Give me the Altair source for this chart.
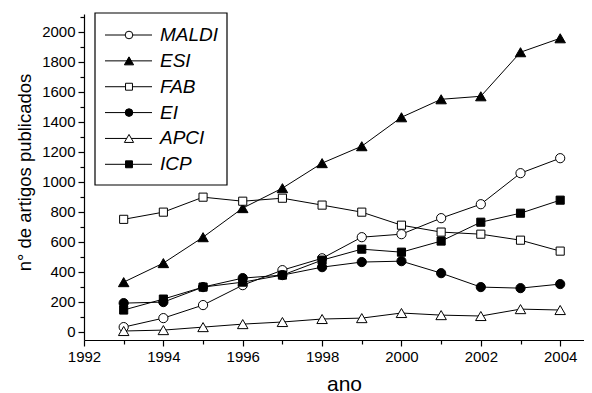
import altair as alt
import pandas as pd

years = list(range(1993, 2005))
series = ["MALDI", "ESI", "FAB", "EI", "APCI", "ICP"]
maldi = [31, 91, 178, 311, 411, 490, 631, 651, 758, 851, 1058, 1158]
esi = [331, 458, 631, 825, 958, 1125, 1238, 1431, 1551, 1571, 1865, 1958]
fab = [750, 798, 898, 871, 891, 845, 798, 711, 665, 651, 611, 538]
ei = [191, 198, 298, 358, 378, 431, 465, 471, 391, 298, 291, 318]
apci = [5, 11, 31, 51, 65, 85, 91, 125, 111, 105, 151, 145]
icp = [145, 218, 298, 331, 378, 478, 551, 531, 605, 731, 791, 878]

shapes = ["circle", "triangle-up", "square", "circle", "triangle-up", "square"]
fills = ["white", "black", "white", "black", "white", "black"]
sizes = [85, 110, 66, 85, 110, 66]
leg_sizes = [58, 85, 48, 58, 85, 48]

x_major = list(range(1992, 2005, 2))
x_minor = list(range(1993, 2004, 2))
y_major = list(range(0, 2001, 200))
y_minor = list(range(100, 2101, 200))

rows = []
for name, vals in zip(series, [maldi, esi, fab, ei, apci, icp]):
    for yr, v in zip(years, vals):
        rows.append({"ano": yr, "valor": v, "serie": name})
df = pd.DataFrame(rows)
leg = pd.DataFrame({"serie": series, "row": list(range(len(series)))})

x_scale = alt.Scale(domain=[1992, 2004.6], nice=False, zero=False)
y_scale = alt.Scale(domain=[-55, 2120], nice=False, zero=False)
shape_scale = alt.Scale(domain=series, range=shapes)
fill_scale = alt.Scale(domain=series, range=fills)

FONT = "Liberation Sans"

x_axis_major = alt.Axis(values=x_major, format="d", tickSize=6, labelFontSize=15,
                        labelPadding=3, labelFlush=False, labelOverlap=False,
                        title="ano", titleFontSize=21, titleFontWeight="normal",
                        titleX=260, titleY=50, titleBaseline="alphabetic",
                        titleAlign="center", grid=False, orient="bottom")
y_axis_major = alt.Axis(values=y_major, format="d", tickSize=6, labelFontSize=15,
                        labelPadding=3, labelFlush=False, labelOverlap=False,
                        title="n° de artigos publicados", titleFontSize=18.5,
                        titleFontWeight="normal", titleAngle=-90,
                        titleX=-54, titleY=158, titleBaseline="alphabetic",
                        titleAlign="center", grid=False, orient="left")
x_axis_minor = alt.Axis(values=x_minor, tickSize=4, labels=False, domain=False,
                        title=None, grid=False, orient="bottom")
y_axis_minor = alt.Axis(values=y_minor, tickSize=4, labels=False, domain=False,
                        title=None, grid=False, orient="left")

lines = alt.Chart(df).mark_line(color="black", strokeWidth=1).encode(
    x=alt.X("ano:Q", scale=x_scale, axis=x_axis_major),
    y=alt.Y("valor:Q", scale=y_scale, axis=y_axis_major),
    detail="serie:N",
)

points = alt.Chart(df).mark_point(filled=True, stroke="black", strokeWidth=1,
                                  opacity=1).encode(
    x=alt.X("ano:Q", scale=x_scale, axis=x_axis_minor),
    y=alt.Y("valor:Q", scale=y_scale, axis=y_axis_minor),
    shape=alt.Shape("serie:N", scale=shape_scale, legend=None),
    fill=alt.Fill("serie:N", scale=fill_scale, legend=None),
    size=alt.Size("serie:N", scale=alt.Scale(type="ordinal", domain=series, range=sizes),
                  legend=None),
)

data_layer = alt.layer(lines, points).resolve_axis(x="independent", y="independent")

leg_y = alt.Y("row:Q", scale=alt.Scale(domain=[0, 5], range=[21, 150.3]), axis=None)

box = alt.Chart(pd.DataFrame({"k": [0]})).mark_rect(
    fill="white", stroke="black", strokeWidth=1.2).encode(
    x=alt.value(11), x2=alt.value(143), y=alt.value(-1), y2=alt.value(171))

leg_lines = alt.Chart(leg).mark_rule(color="black", strokeWidth=1).encode(
    x=alt.value(21), x2=alt.value(68), y=leg_y)

leg_points = alt.Chart(leg).mark_point(filled=True, stroke="black", strokeWidth=1,
                                       opacity=1).encode(
    x=alt.value(45), y=leg_y,
    shape=alt.Shape("serie:N", scale=shape_scale, legend=None),
    fill=alt.Fill("serie:N", scale=fill_scale, legend=None),
    size=alt.Size("serie:N", scale=alt.Scale(type="ordinal", domain=series, range=leg_sizes),
                  legend=None),
)

leg_text = alt.Chart(leg).mark_text(align="left", baseline="middle", fontSize=19,
                                    fontStyle="italic", font=FONT, color="black").encode(
    x=alt.value(76), y=leg_y, text="serie:N")

legend_layer = alt.layer(box, leg_lines, leg_points, leg_text)

chart = alt.layer(data_layer, legend_layer).resolve_scale(
    y="independent", size="independent"
).properties(
    width=500, height=326,
    autosize=alt.AutoSizeParams(type="none"),
    padding={"left": 76, "top": 6, "right": 0, "bottom": 53},
).configure_view(stroke=None).configure_axis(
    labelFont=FONT, titleFont=FONT, labelColor="black", titleColor="black",
    domainColor="black", tickColor="black", domainWidth=1.2, tickWidth=1.2,
).configure_text(font=FONT)

chart.save("out.html", embed_options={"renderer": "svg", "actions": False})
